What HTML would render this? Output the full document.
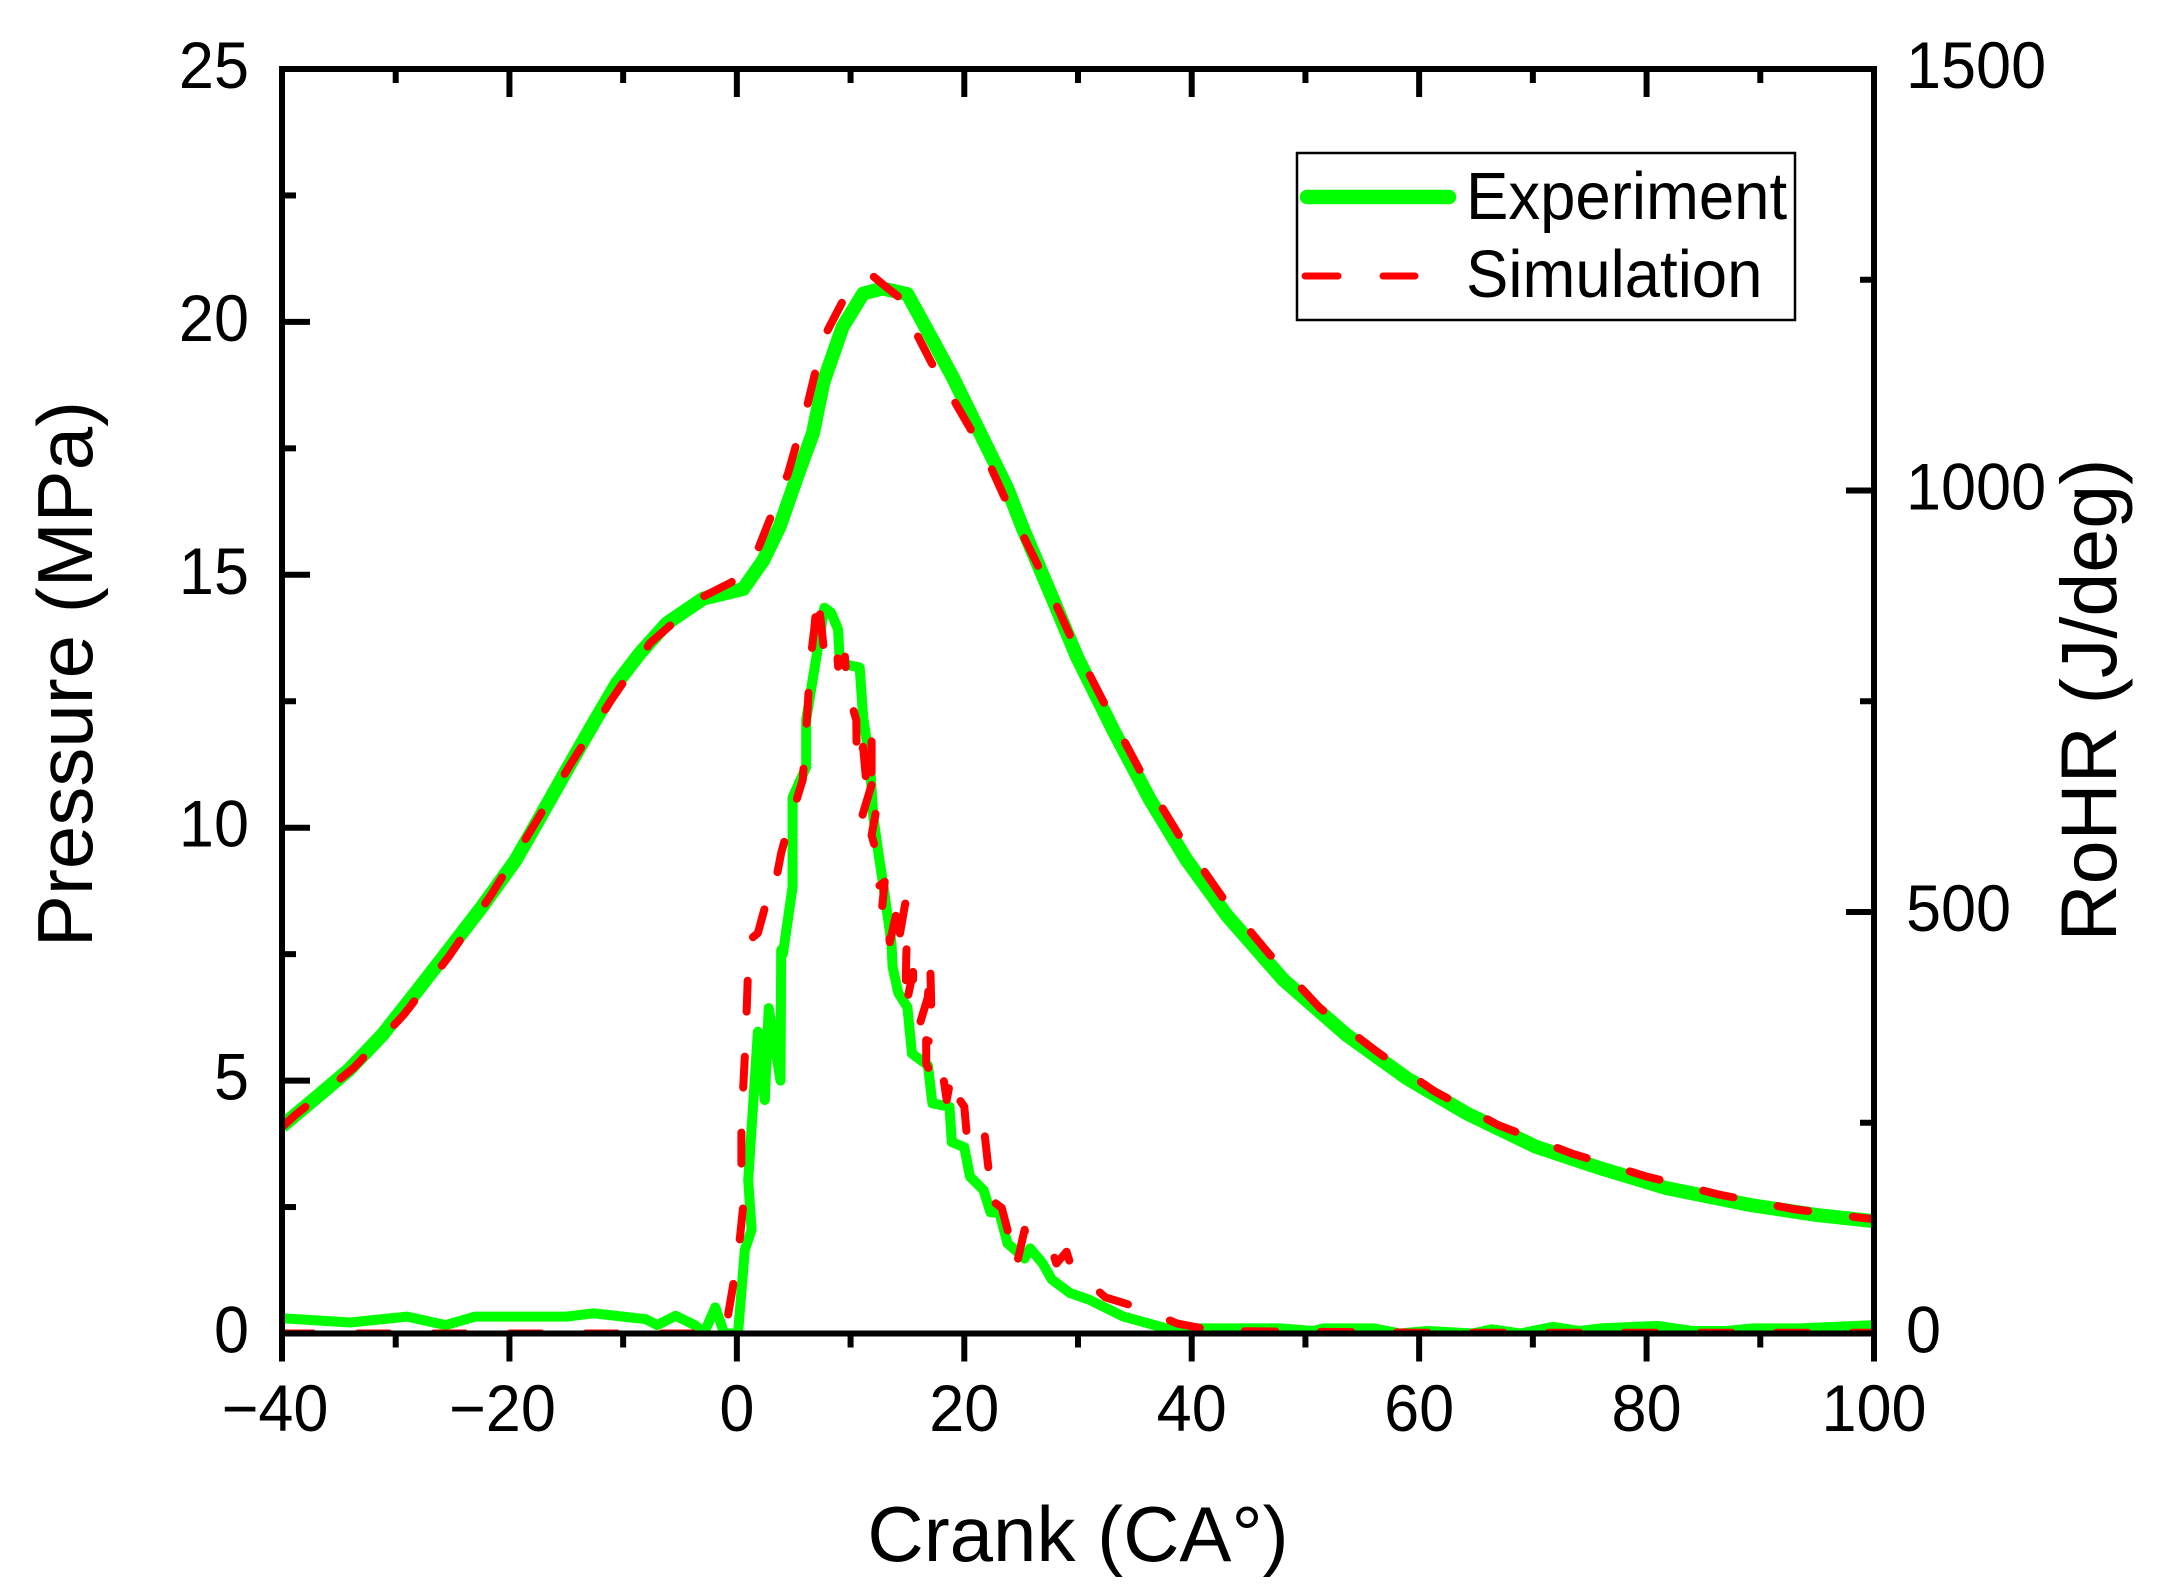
<!DOCTYPE html>
<html lang="en">
<head>
<meta charset="utf-8">
<title>Pressure and RoHR vs Crank</title>
<style>
html,body{margin:0;padding:0;background:#fff;}
svg{display:block;}
text{font-family:"Liberation Sans",sans-serif;fill:#000;}
</style>
</head>
<body>
<svg id="chart" xmlns="http://www.w3.org/2000/svg" width="2162" height="1593" viewBox="0 0 2162 1593">
  <defs>
    <clipPath id="plot-clip"><rect x="282" y="69" width="1592" height="1264.5"/></clipPath>
  </defs>
  <rect x="0" y="0" width="2162" height="1593" fill="#fff"/>
  <g id="series" clip-path="url(#plot-clip)" fill="none" stroke-linejoin="round"></g>
  <rect x="282" y="69" width="1592" height="1264.5" fill="none" stroke="#000" stroke-width="6"/>
  <g id="ticks" stroke="#000" stroke-width="6"></g>
  <g id="tick-labels" font-size="63"></g>
  <text x="1078" y="1561" font-size="78" text-anchor="middle">Crank (CA°)</text>
  <text transform="translate(92,674) rotate(-90)" font-size="78" text-anchor="middle">Pressure (MPa)</text>
  <text transform="translate(2116,700) rotate(-90)" font-size="79" text-anchor="middle">RoHR (J/deg)</text>
  <g>
    <rect x="1297" y="153" width="498" height="167" fill="#fff" stroke="#000" stroke-width="2.5"/>
    <line x1="1307" y1="197" x2="1449" y2="197" stroke="#00ff00" stroke-width="14.5" stroke-linecap="round"/>
    <text transform="translate(1466,219) scale(1,1.05)" font-size="63.5">Experiment</text>
    <line x1="1305" y1="276" x2="1415" y2="276" stroke="#ff0000" stroke-width="7" stroke-linecap="round" stroke-dasharray="33 45"/>
    <text transform="translate(1466,297) scale(1,1.05)" font-size="63.5">Simulation</text>
  </g>
</svg>
<script>
const xTickValues = [-40, -20, 0, 20, 40, 60, 80, 100];
const xTickLabels = ["\u221240", "\u221220", "0", "20", "40", "60", "80", "100"];
const xMinorValues = [-30, -10, 10, 30, 50, 70, 90];
const leftTickValues = [0, 5, 10, 15, 20, 25];
const leftTickLabels = ["0", "5", "10", "15", "20", "25"];
const leftMinorValues = [2.5, 7.5, 12.5, 17.5, 22.5];
const rightTickValues = [0, 500, 1000, 1500];
const rightTickLabels = ["0", "500", "1000", "1500"];
const rightMinorValues = [250, 750, 1250];

const expPressureCrank = [-40,-37.07,-34.13,-31.2,-28.28,-25.34,-22.4,-19.48,-17.6,-14.96,-12.62,-10.57,-8.52,-6.17,-2.95,0.56,2.33,3.76,5.5,6.7,7.6,9.3,11.1,12.8,15,16.7,19,21.4,23.8,25.2,27.83,29.9,33.1,36.34,39.56,43.08,48.06,53.63,58.9,64.2,70.3,75.9,81.8,89.1,95,100];
const expPressure = [4.1,4.65,5.21,5.9,6.73,7.58,8.44,9.35,10.09,11.14,12.06,12.85,13.45,14.04,14.53,14.72,15.29,15.95,17.07,17.8,18.8,19.9,20.56,20.66,20.55,19.85,18.9,17.8,16.7,15.89,14.5,13.38,11.93,10.55,9.36,8.27,6.99,5.9,5.05,4.35,3.69,3.27,2.87,2.54,2.34,2.22];

const simPressureCrank = [-40,-38.83,-33.7,-29.3,-25.34,-21.53,-18.1,-14.67,-11.15,-7.64,-2.95,-0.5,1.16,1.85,4.5,5.5,6.25,7.1,7.9,9.7,10.5,11.4,12,12.8,14.2,15.5,17.1,18.7,20.5,22,23.6,24.9,27.1,29.7,32.67,35.75,38.97,43,46.74,51.3,56.3,61.4,66.96,73.4,79.9,86.3,92.9,98.8,100];
const simPressure = [4.08,4.32,5.25,6.3,7.45,8.7,9.95,11.24,12.49,13.65,14.57,14.85,15.16,15.5,17.0,17.8,18.4,19.2,19.8,20.58,20.75,20.92,20.9,20.75,20.5,19.9,19.2,18.6,17.9,17.3,16.5,15.9,14.9,13.6,12.3,11.0,9.82,8.53,7.52,6.43,5.57,4.78,4.12,3.56,3.11,2.75,2.46,2.29,2.26];

const expRohrCrank = [-40,-34,-29,-25.6,-23,-15,-12.6,-8,-7,-5.4,-3.7,-2.9,-1.9,-1.1,0.1,0.7,1.3,1.0,1.85,2.46,2.8,3.84,3.9,4.05,4.9,4.9,6.1,6.1,6.85,7.7,8.3,8.9,9.05,10.8,11.1,11.7,12,12.4,12.85,13.6,13.7,14.2,15,15.4,16.8,17.2,18.7,18.9,20,20.5,21.7,22.3,23.1,23.8,25.3,25.8,26.9,27.7,29.3,31,34,37.8,47.8,50.7,51.6,56,58.3,60.7,62,64.7,66.4,68.9,71.8,74.1,75.9,81,84,87,89.4,93.5,100];
const expRohr = [18,13,20,10,20,20,24,17,10,21,10,0,31,0,0,99,123,182,358,277,386,300,455,450,530,636,672,728,791,861,855,835,795,790,732,677,613,574,534,463,435,404,387,332,318,273,269,227,221,186,170,144,143,107,89,101,83,64,48,40,20,6,6,3,6,6,0,3,2,0,5,0,8,3,6,9,3,3,6,6,10];

const simRohrCrank = [-40,-30,-20,-10,-3,-1.4,-0.8,-0.33,0.25,0.55,0.4,0.4,0.55,0.7,0.85,0.95,1.15,1.85,2.46,3.5,3.35,3.9,4.65,5.8,6,6.25,6.4,6.8,7.1,7.45,7.75,8.8,8.9,9.5,9.7,10.5,10.55,11.1,11.35,11.85,11.85,11.05,11.05,12.05,12.25,11.85,12.3,12.4,13,12.7,13.15,13.45,14.05,14.2,14.8,15,14.9,14.8,15.5,15.5,16.15,16.8,17,17.1,17.35,16.65,16.65,17.7,18.1,18.45,18.9,19.6,20,20.2,20.7,20.75,21.8,22.25,22.8,22.4,23.3,23.85,24.45,24.7,25.3,25.6,27.8,28.1,29,29.4,32.4,35.5,38.7,42.1,50,60,80,100];
const simRohr = [0,0,0,0,0,5,20,57,111,150,197,239,289,328,378,419,467,475,505,512,532,570,607,657,698,746,790,835,878,837,797,813,791,803,764,728,672,696,659,706,666,641,615,660,621,591,570,530,536,496,502,464,500,463,510,478,449,384,429,380,370,399,443,386,344,348,320,292,309,277,309,277,269,238,229,215,235,180,180,158,149,120,126,87,123,105,95,83,97,79,43,30,12,3,2,1,1,1];

const SVG_NS = "http://www.w3.org/2000/svg";
const PLOT_LEFT = 282, PLOT_RIGHT = 1874, PLOT_TOP = 69, PLOT_BOTTOM = 1333.5;
const xScale = v => PLOT_LEFT + (v + 40) * (PLOT_RIGHT - PLOT_LEFT) / 140;
const leftScale = v => PLOT_BOTTOM - v * (PLOT_BOTTOM - PLOT_TOP) / 25;
const rightScale = v => PLOT_BOTTOM - v * (PLOT_BOTTOM - PLOT_TOP) / 1500;

const seriesGroup = document.getElementById("series");
const ticksGroup = document.getElementById("ticks");
const labelsGroup = document.getElementById("tick-labels");

function pathFor(xs, ys, yScale) {
  return xs.map((x, i) => (i ? "L" : "M") + xScale(x).toFixed(1) + " " + yScale(ys[i]).toFixed(1)).join(" ");
}
function addSeries(name, xs, ys, yScale, color, width, dash) {
  const p = document.createElementNS(SVG_NS, "path");
  
  
  p.setAttribute("d", pathFor(xs, ys, yScale));
  p.setAttribute("stroke", color);
  p.setAttribute("stroke-width", width);
  if (dash) {
    p.setAttribute("stroke-dasharray", dash);
    p.setAttribute("stroke-linecap", "round");
  }
  seriesGroup.appendChild(p);
}
function addTick(name, x1, y1, x2, y2) {
  const l = document.createElementNS(SVG_NS, "line");
  
  
  l.setAttribute("x1", x1);
  l.setAttribute("y1", y1);
  l.setAttribute("x2", x2);
  l.setAttribute("y2", y2);
  ticksGroup.appendChild(l);
}
function addLabel(name, str, x, y, anchor) {
  const t = document.createElementNS(SVG_NS, "text");
  
  
  t.setAttribute("transform", "translate(" + x + "," + y + ") scale(1,1.05)");
  t.setAttribute("text-anchor", anchor);
  t.textContent = str;
  labelsGroup.appendChild(t);
}

addSeries("experiment-pressure-line", expPressureCrank, expPressure, leftScale, "#00ff00", 14, null);
addSeries("simulation-pressure-line", simPressureCrank, simPressure, leftScale, "#ff0000", 8, "31 45");
addSeries("experiment-rohr-line", expRohrCrank, expRohr, rightScale, "#00ff00", 10, null);
addSeries("simulation-rohr-line", simRohrCrank, simRohr, rightScale, "#ff0000", 8, "31 45");

xTickValues.forEach((v, i) => {
  addTick("x-major-tick-bottom", xScale(v), PLOT_BOTTOM, xScale(v), PLOT_BOTTOM + 28);
  addTick("x-major-tick-top", xScale(v), PLOT_TOP, xScale(v), PLOT_TOP + 28);
  const shift = v < 0 ? -7 : 0;
  addLabel("x-tick-label", xTickLabels[i], xScale(v) + shift, 1431, "middle");
});
xMinorValues.forEach(v => {
  addTick("x-minor-tick-bottom", xScale(v), PLOT_BOTTOM, xScale(v), PLOT_BOTTOM + 14);
  addTick("x-minor-tick-top", xScale(v), PLOT_TOP, xScale(v), PLOT_TOP + 14);
});
leftTickValues.forEach((v, i) => {
  addTick("left-major-tick", PLOT_LEFT, leftScale(v), PLOT_LEFT + 28, leftScale(v));
  addLabel("left-tick-label", leftTickLabels[i], 249, leftScale(v) + 19, "end");
});
leftMinorValues.forEach(v => {
  addTick("left-minor-tick", PLOT_LEFT, leftScale(v), PLOT_LEFT + 14, leftScale(v));
});
rightTickValues.forEach((v, i) => {
  addTick("right-major-tick", PLOT_RIGHT, rightScale(v), PLOT_RIGHT - 28, rightScale(v));
  addLabel("right-tick-label", rightTickLabels[i], 1906, rightScale(v) + 19, "start");
});
rightMinorValues.forEach(v => {
  addTick("right-minor-tick", PLOT_RIGHT, rightScale(v), PLOT_RIGHT - 14, rightScale(v));
});
</script>
</body>
</html>
